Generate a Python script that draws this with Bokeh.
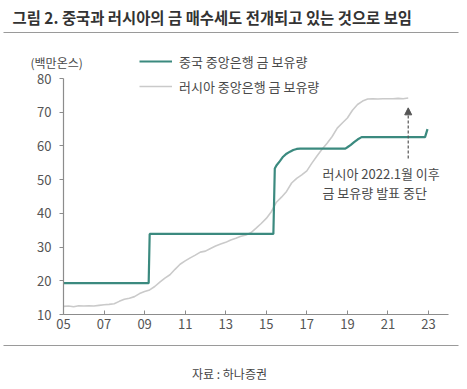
from bokeh.plotting import figure
from bokeh.models import (FixedTicker, Label, Legend, LegendItem, Arrow, NormalHead)
from bokeh.embed import file_html
from bokeh.resources import INLINE

# ---------------- data ----------------
china_x = [2005.0, 2009.2, 2009.25, 2015.35, 2015.42, 2015.5, 2015.67, 2015.83, 2016.0,
           2016.17, 2016.33, 2016.5, 2016.67, 2018.9, 2019.0, 2019.17, 2019.33, 2019.5,
           2019.7, 2022.83, 2022.95]
china_y = [19.3, 19.3, 33.9, 33.9, 53.3, 54.2, 55.5, 56.8, 57.7,
           58.3, 58.8, 59.1, 59.2, 59.2, 59.6, 60.3, 61.1, 61.9,
           62.6, 62.6, 65.0]

russia_x = [2005.0, 2005.25, 2005.5, 2005.75, 2006.0, 2006.25, 2006.5, 2006.75, 2007.0,
            2007.25, 2007.5, 2007.75, 2008.0, 2008.25, 2008.5, 2008.75, 2009.0, 2009.25,
            2009.5, 2009.75, 2010.0, 2010.25, 2010.5, 2010.75, 2011.0, 2011.25, 2011.5,
            2011.75, 2012.0, 2012.25, 2012.5, 2012.75, 2013.0, 2013.25, 2013.5, 2013.75,
            2014.0, 2014.25, 2014.5, 2014.75, 2015.0, 2015.25, 2015.5, 2015.75, 2016.0,
            2016.25, 2016.5, 2016.75, 2017.0, 2017.25, 2017.5, 2017.75, 2018.0, 2018.25,
            2018.5, 2018.75, 2019.0, 2019.25, 2019.5, 2019.75, 2020.0, 2020.25, 2020.5,
            2020.75, 2021.0, 2021.25, 2021.5, 2021.75, 2022.0]
russia_y = [12.4, 12.5, 12.3, 12.6, 12.5, 12.6, 12.5, 12.7, 12.9,
            13.0, 13.2, 13.9, 14.5, 14.8, 15.3, 16.2, 16.8, 17.3,
            18.3, 19.6, 20.8, 21.8, 23.4, 24.9, 25.9, 26.8, 27.6,
            28.5, 28.8, 29.6, 30.3, 30.9, 31.4, 32.1, 32.6, 33.2,
            33.6, 34.3, 35.6, 37.0, 38.5, 40.5, 43.3, 44.8, 46.5,
            49.0, 50.4, 51.4, 52.6, 54.9, 57.0, 59.0, 60.8, 62.8,
            65.3, 66.8, 68.3, 70.6, 72.3, 73.3, 73.9, 74.0, 73.9,
            74.0, 74.0, 74.0, 74.1, 74.0, 74.2]

x_ticks = [2005, 2007, 2009, 2011, 2013, 2015, 2017, 2019, 2021, 2023]
x_tick_labels = ["05", "07", "09", "11", "13", "15", "17", "19", "21", "23"]
y_ticks = [10, 20, 30, 40, 50, 60, 70, 80]

arrow_x = 2022.0
arrow_y0 = 56.3
arrow_y1 = 71.3

title_text = "그림 2. 중국과 러시아의 금 매수세도 전개되고 있는 것으로 보임"
unit_text = "(백만온스)"
china_name = "중국 중앙은행 금 보유량"
russia_name = "러시아 중앙은행 금 보유량"
note1 = "러시아 2022.1월 이후"
note2 = "금 보유량 발표 중단"
source_text = "자료 : 하나증권"

# ---------------- layout (pixel anchors on the canvas) ----------------
W, H = 459, 381
AX_X0, AX_X1 = 63.0, 428.0      # pixel x of 2005 and 2023
AX_Y0, AX_Y1 = 314.0, 78.0      # pixel y of 10 and 80
XPP = (AX_X1 - AX_X0) / (2023 - 2005)
YPP = (AX_Y0 - AX_Y1) / (80 - 10)
X_START = 2005 - AX_X0 / XPP
X_END = 2005 + (W - AX_X0) / XPP
Y_TOP = 80 + AX_Y1 / YPP
Y_BOT = 80 - (H - AX_Y1) / YPP

FONT = "Noto Sans CJK KR"
TEAL = "#3b8a7f"
GRAY = "#cacaca"
TXT = "#4a4a4a"


def dx(px):
    return 2005 + (px - AX_X0) / XPP


def dy(py):
    return 80 - (py - AX_Y1) / YPP


p = figure(width=W, height=H, x_range=(X_START, X_END), y_range=(Y_BOT, Y_TOP),
           output_backend="svg", toolbar_location=None,
           min_border_left=0, min_border_right=0, min_border_top=0, min_border_bottom=0)
p.outline_line_color = None
p.grid.visible = False
p.background_fill_color = "white"
p.border_fill_color = "white"

r_russia = p.line(russia_x, russia_y, line_color=GRAY, line_width=1.6)
r_china = p.line(china_x, china_y, line_color=TEAL, line_width=2.2)

# axes (drawn at fixed data locations inside the full-canvas frame)
p.xaxis.fixed_location = 10
p.yaxis.fixed_location = 2005
p.xaxis.bounds = (2005, dx(448))
p.yaxis.bounds = (10, 80)
p.xaxis.ticker = FixedTicker(ticks=x_ticks)
p.xaxis.major_label_overrides = {t: l for t, l in zip(x_ticks, x_tick_labels)}
p.yaxis.ticker = FixedTicker(ticks=y_ticks)
for ax in (p.xaxis, p.yaxis):
    ax.axis_line_color = "#8c8c8c"
    ax.axis_line_width = 1.2
    ax.major_tick_line_color = "#8c8c8c"
    ax.minor_tick_line_color = None
    ax.major_label_text_color = "#555555"
    ax.major_label_text_font = FONT
    ax.major_label_text_font_size = "13px"
p.xaxis.major_tick_in = 4
p.xaxis.major_tick_out = 0
p.xaxis.major_label_standoff = 4
p.yaxis.major_tick_in = 0
p.yaxis.major_tick_out = 4
p.yaxis.major_label_standoff = 8

# legend
legend = Legend(items=[LegendItem(label=china_name, renderers=[r_china]),
                       LegendItem(label=russia_name, renderers=[r_russia])],
                location=(139, H - 97 + 1), orientation="vertical",
                border_line_color=None, background_fill_alpha=0,
                padding=0, margin=0, spacing=5, glyph_width=33, glyph_height=20,
                label_height=20, label_standoff=7,
                label_text_font=FONT, label_text_font_size="13px",
                label_text_color=TXT)
p.add_layout(legend, "center")

# title, rules, unit, source
p.add_layout(Label(x=dx(12), y=dy(16), text=title_text, text_font=FONT,
                   text_font_size="15.4px", text_font_style="bold", text_color="#333333",
                   text_baseline="middle", text_align="left"))
p.segment(x0=[dx(3), dx(3)], y0=[dy(32), dy(345)], x1=[dx(458), dx(458)],
          y1=[dy(32), dy(345)], line_color="#9a9a9a", line_width=1.2)
p.add_layout(Label(x=dx(30), y=dy(62), text=unit_text, text_font=FONT,
                   text_font_size="12px", text_color=TXT,
                   text_baseline="middle", text_align="left"))
p.add_layout(Label(x=dx(229), y=dy(373), text=source_text, text_font=FONT,
                   text_font_size="12px", text_color="#444444",
                   text_baseline="middle", text_align="center"))

# annotation
p.add_layout(Label(x=dx(322), y=dy(173), text=note1, text_font=FONT,
                   text_font_size="13px", text_color=TXT,
                   text_baseline="middle", text_align="left"))
p.add_layout(Label(x=dx(322), y=dy(192), text=note2, text_font=FONT,
                   text_font_size="13px", text_color=TXT,
                   text_baseline="middle", text_align="left"))
p.add_layout(Arrow(x_start=arrow_x, y_start=arrow_y0, x_end=arrow_x, y_end=arrow_y1,
                   line_color="#555555", line_width=1.2, line_dash="3 2",
                   end=NormalHead(size=7, fill_color="#555555", line_color="#555555")))

open("out.html", "w").write(file_html(p, INLINE))
